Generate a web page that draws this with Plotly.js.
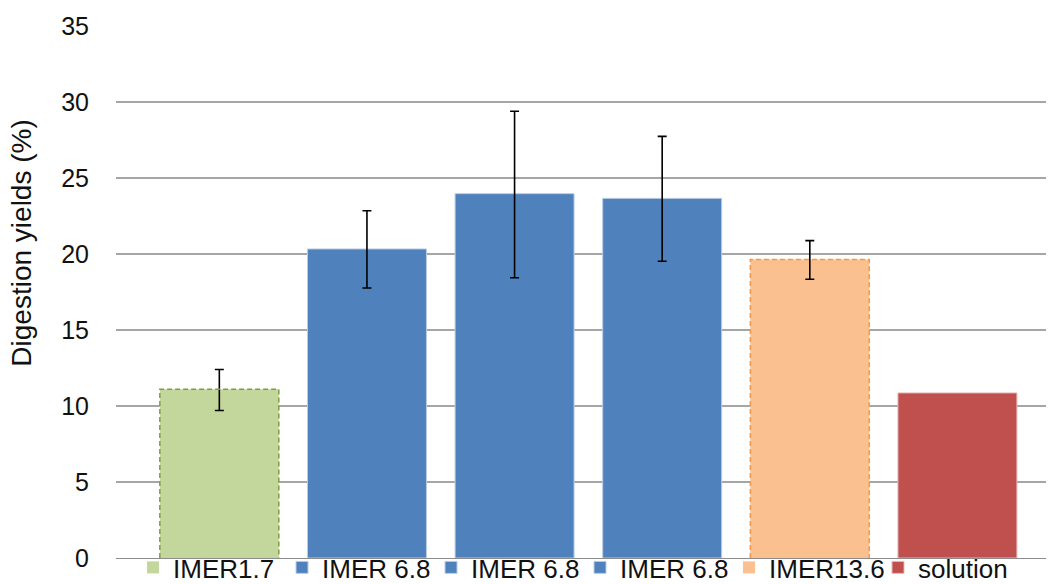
<!DOCTYPE html>
<html>
<head>
<meta charset="utf-8">
<script src="https://cdn.plot.ly/plotly-3.0.1.min.js"></script>
<style>html,body{margin:0;padding:0;background:#fff}#chart{width:1055px;height:584px}</style>
</head>
<body>
<div id="chart"></div>
<script>
const labels = ["IMER1.7", "IMER 6.8", "IMER 6.8", "IMER 6.8", "IMER13.6", "solution"];
const yields = [11.1, 20.33, 23.97, 23.66, 19.63, 10.86];
const errPlus = [1.3, 2.52, 5.42, 4.08, 1.25, 0];
const errMinus = [1.4, 2.57, 5.53, 4.14, 1.29, 0];
const fills = ["#C3D69B", "#4F81BD", "#4F81BD", "#4F81BD", "#FAC090", "#C0504D"];
const borders = ["#7F9F3E", "#B9CDE5", "#B9CDE5", "#B9CDE5", "#F79646", "#E6B9B8"];
const dashed = [true, false, false, false, true, false];

const barWidth = 0.806;
const traces = [];
labels.forEach((lab, i) => {
  traces.push({
    type: "bar",
    x: [i],
    y: [yields[i]],
    width: [barWidth],
    name: lab,
    showlegend: true,
    marker: {color: fills[i], line: {color: borders[i], width: dashed[i] ? 0 : 1}},
    error_y: {
      type: "data", symmetric: false,
      array: [errPlus[i]], arrayminus: [errMinus[i]],
      visible: errPlus[i] > 0,
      color: "#000", thickness: 1.6, width: 4.5
    },
    hoverinfo: "skip"
  });
});
labels.forEach((lab, i) => {
  if (!dashed[i]) return;
  const h = barWidth / 2;
  traces.push({
    type: "scatter", mode: "lines",
    x: [i - h, i - h, i + h, i + h],
    y: [0, yields[i], yields[i], 0],
    line: {color: borders[i], width: 1.5, dash: "5px,3px"},
    showlegend: false, hoverinfo: "skip"
  });
});

const FONT = "Liberation Sans, Arial, sans-serif";
const layout = {
  width: 1055, height: 584,
  margin: {l: 116, r: 9, t: 26, b: 26, autoexpand: false},
  paper_bgcolor: "#fff", plot_bgcolor: "#fff",
  barmode: "overlay",
  font: {family: FONT, color: "#111"},
  xaxis: {
    range: [-0.70, 5.6], showticklabels: false, showgrid: false, zeroline: false,
    showline: true, linecolor: "#8c8c8c", linewidth: 1, ticks: "", fixedrange: true
  },
  yaxis: {
    range: [0, 35], dtick: 5, tick0: 0, showgrid: true, gridcolor: "#a6a6a6", gridwidth: 1.3,
    zeroline: false, showline: false, ticks: "", ticklabelstandoff: 26,
    tickfont: {size: 25, family: FONT, color: "#111"}
  },
  annotations: [{
    text: "Digestion yields (%)", textangle: -90,
    xref: "paper", yref: "paper", x: -0.101, y: 0.591,
    xanchor: "center", yanchor: "middle", showarrow: false,
    font: {size: 28, family: FONT, color: "#111"}
  }],
  legend: {
    orientation: "h", xref: "paper", yref: "paper",
    x: 0.0183, xanchor: "left", y: -0.062, yanchor: "bottom",
    entrywidth: 104, entrywidthmode: "pixels",
    font: {size: 26, family: FONT, color: "#111"},
    bgcolor: "rgba(0,0,0,0)", traceorder: "normal", itemclick: false
  },
  showlegend: true
};
Plotly.newPlot("chart", traces, layout, {displayModeBar: false, staticPlot: true});
</script>
</body>
</html>
